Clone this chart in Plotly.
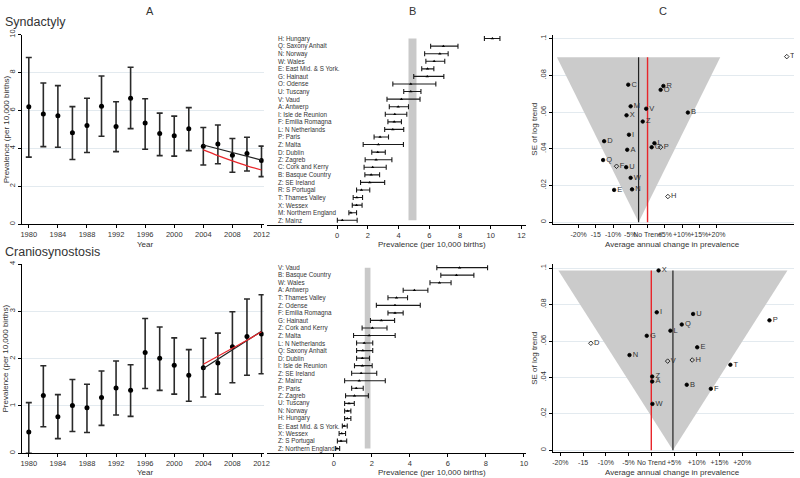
import plotly.graph_objects as go

W, H = 800, 478
FONT = "Liberation Sans, Arial, sans-serif"
INK = "#333333"
GRID = "#e3eaef"

# ---- Panel A: prevalence over time (2-year periods) ----
years = [1980, 1982, 1984, 1986, 1988, 1990, 1992, 1994, 1996,
         1998, 2000, 2002, 2004, 2006, 2008, 2010, 2012]
year_ticks = [1980, 1984, 1988, 1992, 1996, 2000, 2004, 2008, 2012]

synd_prev = [6.19, 5.81, 5.72, 4.82, 5.20, 6.22, 5.16, 6.65, 5.34,
             4.78, 4.66, 5.04, 4.11, 4.23, 3.64, 3.73, 3.36]
synd_hi = [8.79, 7.45, 7.31, 6.20, 6.64, 7.82, 6.46, 8.28, 6.62,
           5.86, 5.70, 6.15, 5.10, 5.23, 4.52, 4.59, 4.12]
synd_lo = [3.54, 4.09, 4.06, 3.41, 3.78, 4.64, 3.83, 5.04, 3.95,
           3.62, 3.59, 3.88, 3.12, 3.19, 2.74, 2.81, 2.51]

cranio_prev = [0.45, 1.22, 0.77, 1.01, 0.96, 1.18, 1.38, 1.33, 2.13,
               2.01, 1.86, 1.65, 1.81, 1.91, 2.25, 2.47, 2.52]
cranio_hi = [1.07, 1.85, 1.24, 1.56, 1.46, 1.74, 1.95, 1.87, 2.85,
             2.67, 2.44, 2.19, 2.43, 2.54, 2.99, 3.26, 3.35]
cranio_lo = [0.00, 0.56, 0.31, 0.46, 0.44, 0.59, 0.81, 0.78, 1.37,
             1.33, 1.25, 1.10, 1.19, 1.25, 1.49, 1.65, 1.68]

trend_years = [2004, 2006, 2008, 2010, 2012]
synd_trend_black = [4.18, 3.98, 3.78, 3.58, 3.38]
synd_trend_red = [3.92, 3.62, 3.34, 3.08, 2.86]
cranio_trend_black = [1.79, 1.99, 2.19, 2.38, 2.58]
cranio_trend_red = [1.88, 2.05, 2.22, 2.39, 2.57]

# ---- Panel B: prevalence by registry ----
synd_regions = ["H: Hungary", "Q: Saxony Anhalt", "N: Norway", "W: Wales",
                "E: East Mid. & S York.", "G: Hainaut", "O: Odense", "U: Tuscany",
                "V: Vaud", "A: Antwerp", "I: Isle de Reunion", "F: Emilia Romagna",
                "L: N Netherlands", "P: Paris", "Z: Malta", "D: Dublin", "Z: Zagreb",
                "C: Cork and Kerry", "B: Basque Country", "Z: SE Ireland",
                "R: S Portugal", "T: Thames Valley", "X: Wessex",
                "M: Northern England", "Z: Mainz"]
synd_reg_prev = [10.11, 6.92, 6.69, 6.32, 5.89, 5.87, 4.80, 4.80, 4.19, 3.98,
                 3.76, 3.72, 3.63, 2.80, 2.69, 2.65, 2.54, 2.32, 2.22, 2.13,
                 1.59, 1.29, 1.27, 0.90, 0.34]
synd_reg_lo = [9.59, 6.09, 5.70, 5.78, 5.51, 4.99, 3.63, 4.34, 3.25, 3.40,
               3.14, 3.31, 3.10, 2.41, 1.70, 2.26, 1.83, 1.76, 1.81, 1.53,
               1.27, 1.05, 0.99, 0.77, 0.02]
synd_reg_hi = [10.60, 7.87, 7.23, 7.01, 6.30, 6.95, 6.43, 5.46, 5.40, 4.65,
               4.54, 4.19, 4.34, 3.35, 4.32, 3.14, 3.57, 3.20, 2.77, 3.10,
               2.13, 1.66, 1.63, 1.27, 1.31]
synd_pooled = [4.65, 5.17]

cranio_regions = ["V: Vaud", "B: Basque Country", "W: Wales", "A: Antwerp",
                  "T: Thames Valley", "Z: Odense", "F: Emilia Romagna", "G: Hainaut",
                  "Z: Cork and Kerry", "Z: Malta", "L: N Netherlands",
                  "Q: Saxony Anhalt", "D: Dublin", "I: Isle de Reunion",
                  "Z: SE Ireland", "Z: Mainz", "P: Paris", "Z: Zagreb", "U: Tuscany",
                  "N: Norway", "H: Hungary", "E: East Mid. & S York.", "X: Wessex",
                  "Z: S Portugal", "Z: Northern England"]
cranio_reg_prev = [6.62, 6.45, 5.56, 4.24, 3.30, 3.22, 3.22, 2.50, 2.03, 1.86,
                   1.60, 1.53, 1.50, 1.50, 1.44, 1.34, 1.18, 1.09, 0.80, 0.73,
                   0.71, 0.55, 0.42, 0.38, 0.17]
cranio_reg_lo = [5.42, 5.63, 5.06, 3.65, 2.85, 2.24, 2.85, 1.93, 1.49, 1.04,
                 1.20, 1.20, 1.20, 1.09, 0.94, 0.57, 0.94, 0.62, 0.57, 0.57,
                 0.57, 0.45, 0.28, 0.19, 0.10]
cranio_reg_hi = [8.09, 7.37, 6.17, 4.95, 3.88, 4.55, 3.65, 3.20, 2.80, 3.23,
                 2.05, 2.05, 1.88, 2.02, 2.26, 2.71, 1.55, 1.82, 1.08, 0.90,
                 0.90, 0.71, 0.62, 0.68, 0.31]
cranio_pooled = [1.63, 1.93]

# ---- Panel C: funnel plot of annual change vs SE of log trend ----
synd_codes = ["T", "C", "R", "O", "M", "V", "B", "X", "Z", "I", "D", "L",
              "G", "P", "A", "Q", "F", "U", "W", "E", "N", "H"]
synd_change = [40.4, -5.6, 4.6, 3.8, -4.9, -0.4, 11.7, -6.1, -1.4, -5.4, -12.6, 2.0,
               1.2, 3.8, -5.9, -12.9, -9.0, -6.2, -4.9, -9.7, -4.5, 5.9]
synd_se = [0.0903, 0.0750, 0.0743, 0.0722, 0.0632, 0.0619, 0.0598, 0.0583, 0.0549,
           0.0477, 0.0442, 0.0431, 0.0409, 0.0409, 0.0395, 0.0339, 0.0305, 0.0300,
           0.0242, 0.0176, 0.0179, 0.0140]
synd_open = ["T", "P", "F", "H"]
synd_funnel = {"center": -2.6, "top_se": 0.090, "half_width": 23.7}

cranio_codes = ["X", "I", "U", "Q", "P", "L", "G", "D", "E", "N", "V", "H",
                "T", "Z", "A", "B", "F", "W"]
cranio_change = [1.6, 1.2, 9.2, 6.7, 26.0, 4.2, -1.0, -13.3, 10.1, -4.8, 3.6, 9.0,
                 17.4, 0.2, 0.2, 7.8, 13.1, 0.25]
cranio_se = [0.0988, 0.0758, 0.0749, 0.0691, 0.0714, 0.0657, 0.0629, 0.0588, 0.0566,
             0.0523, 0.0490, 0.0496, 0.0470, 0.0405, 0.0378, 0.0360, 0.0338, 0.0255]
cranio_open = ["D", "V", "H"]
cranio_funnel = {"center": 4.76, "top_se": 0.0988, "half_width": 25.2}

change_ticks = [-20, -15, -10, -5, 0, 5, 10, 15, 20]
change_labels = ["-20%", "-15", "-10%", "-5%", "No Trend", "+5%", "+10%", "+15%", "+20%"]
se_ticks = [0, 0.02, 0.04, 0.06, 0.08, 0.1]
se_labels = ["0", ".02", ".04", ".06", ".08", ".1"]


def px(x):
    return x / W


def py(y):
    return 1 - y / H


def tick_font(size=7.5):
    return dict(family=FONT, size=size, color=INK)


def add_time_panel(fig, xa, ya, prev, lo, hi, black, red):
    fig.add_trace(go.Scatter(
        x=years, y=prev, mode="markers", xaxis=xa, yaxis=ya,
        marker=dict(color="black", size=5),
        error_y=dict(type="data", array=[h - p for h, p in zip(hi, prev)],
                     arrayminus=[p - l for p, l in zip(prev, lo)],
                     color="#2a2a2a", thickness=1.6, width=3)))
    fig.add_trace(go.Scatter(x=trend_years, y=black, mode="lines", xaxis=xa, yaxis=ya,
                             line=dict(color="#222222", width=1.2)))
    fig.add_trace(go.Scatter(x=trend_years, y=red, mode="lines", xaxis=xa, yaxis=ya,
                             line=dict(color="#e8262b", width=1.2, shape="spline")))


def add_region_panel(fig, xa, ya, regions, prev, lo, hi, pooled, label_x):
    rows = list(range(len(regions)))
    fig.add_shape(type="rect", xref=xa, yref=ya, x0=pooled[0], x1=pooled[1],
                  y0=rows[0], y1=rows[-1], fillcolor="#c9c9c9",
                  line=dict(width=0), layer="below")
    fig.add_trace(go.Scatter(
        x=prev, y=rows, mode="markers", xaxis=xa, yaxis=ya,
        marker=dict(color="black", size=3, symbol="triangle-up"),
        error_x=dict(type="data", array=[h - p for h, p in zip(hi, prev)],
                     arrayminus=[p - l for p, l in zip(prev, lo)],
                     color="#1a1a1a", thickness=1.1, width=2.5)))
    for r, name in zip(rows, regions):
        fig.add_annotation(x=label_x, xref="paper", y=r, yref=ya, text=name,
                           showarrow=False, xanchor="left", yanchor="middle",
                           font=dict(family=FONT, size=6.3, color=INK))


def add_funnel_panel(fig, xa, ya, codes, change, se, open_codes, funnel):
    c, top, hw = funnel["center"], funnel["top_se"], funnel["half_width"]
    fig.add_trace(go.Scatter(x=[c - hw, c, c + hw, c - hw], y=[top, 0, top, top],
                             mode="lines", fill="toself", fillcolor="#cbcbcb",
                             line=dict(width=0), xaxis=xa, yaxis=ya))
    fig.add_trace(go.Scatter(x=[c, c], y=[0, top], mode="lines", xaxis=xa, yaxis=ya,
                             line=dict(color="#222222", width=1.2)))
    fig.add_trace(go.Scatter(x=[0, 0], y=[0, top], mode="lines", xaxis=xa, yaxis=ya,
                             line=dict(color="#e8262b", width=1.4)))
    symbols = ["diamond-open" if k in open_codes else "circle" for k in codes]
    fig.add_trace(go.Scatter(
        x=change, y=se, text=codes, mode="markers+text", xaxis=xa, yaxis=ya,
        textposition="middle right",
        textfont=dict(family=FONT, size=7.5, color=INK),
        marker=dict(color="black", size=3.5, symbol=symbols,
                    line=dict(width=0.8, color="black"))))


def main():
    fig = go.Figure()

    add_time_panel(fig, "x", "y", synd_prev, synd_lo, synd_hi,
                   synd_trend_black, synd_trend_red)
    add_region_panel(fig, "x2", "y2", synd_regions, synd_reg_prev, synd_reg_lo,
                     synd_reg_hi, synd_pooled, px(277))
    add_funnel_panel(fig, "x3", "y3", synd_codes, synd_change, synd_se,
                     synd_open, synd_funnel)

    add_time_panel(fig, "x4", "y4", cranio_prev, cranio_lo, cranio_hi,
                   cranio_trend_black, cranio_trend_red)
    add_region_panel(fig, "x5", "y5", cranio_regions, cranio_reg_prev, cranio_reg_lo,
                     cranio_reg_hi, cranio_pooled, px(277))
    add_funnel_panel(fig, "x6", "y6", cranio_codes, cranio_change, cranio_se,
                     cranio_open, cranio_funnel)

    base_x = dict(showline=True, linecolor="black", linewidth=1, ticks="outside",
                  ticklen=3, tickcolor="black", tickfont=tick_font(), showgrid=False,
                  zeroline=False, tickangle=0)
    base_y = dict(showline=True, linecolor="black", linewidth=1, ticks="outside",
                  ticklen=3, tickcolor="black", tickfont=tick_font(), showgrid=True,
                  gridcolor=GRID, gridwidth=1, zeroline=False, tickangle=-90)
    no_y = dict(showline=False, showticklabels=False, ticks="", showgrid=False,
                zeroline=False)

    layout = dict(
        width=W, height=H, margin=dict(l=0, r=0, t=0, b=0),
        paper_bgcolor="white", plot_bgcolor="white", showlegend=False,
        font=dict(family=FONT, color=INK),
        # top row
        xaxis=dict(base_x, domain=[px(20.7), px(265)], range=[1979, 2012.3],
                   tickvals=year_ticks, anchor="y"),
        yaxis=dict(base_y, domain=[py(222), py(30)], range=[0, 10],
                   tickvals=[0, 2, 4, 6, 8, 10], anchor="x"),
        xaxis2=dict(base_x, domain=[px(268), px(530)], range=[-4.58, 12.32],
                    tickvals=[0, 2, 4, 6, 8, 10, 12], anchor="y2"),
        yaxis2=dict(no_y, domain=[py(223), py(30)], range=[24.65, -0.52], anchor="x2"),
        xaxis3=dict(base_x, domain=[px(557), px(800)], range=[-27.4, 42.5],
                    tickvals=change_ticks, ticktext=change_labels, anchor="y3",
                    tickfont=tick_font(7)),
        yaxis3=dict(base_y, domain=[py(222), py(30)], range=[-0.0011, 0.1023],
                    tickvals=se_ticks, ticktext=se_labels, anchor="x3"),
        # bottom row
        xaxis4=dict(base_x, domain=[px(20.7), px(265)], range=[1979, 2012.3],
                    tickvals=year_ticks, anchor="y4"),
        yaxis4=dict(base_y, domain=[py(454), py(262.3)], range=[0, 4],
                    tickvals=[0, 1, 2, 3, 4], anchor="x4"),
        xaxis5=dict(base_x, domain=[px(268), px(530)], range=[-3.53, 10.13],
                    tickvals=[0, 2, 4, 6, 8, 10], anchor="y5"),
        yaxis5=dict(no_y, domain=[py(454), py(262)], range=[24.62, -0.52], anchor="x5"),
        xaxis6=dict(base_x, domain=[px(557), px(800)], range=[-21.6, 31.4],
                    tickvals=change_ticks, ticktext=change_labels, anchor="y6",
                    tickfont=tick_font(7)),
        yaxis6=dict(base_y, domain=[py(453), py(262)], range=[-0.0011, 0.1025],
                    tickvals=se_ticks, ticktext=se_labels, anchor="x6"),
    )
    fig.update_layout(layout)

    def note(text, x, y, size=8, angle=0, anchor="center"):
        fig.add_annotation(text=text, x=px(x), y=py(y), xref="paper", yref="paper",
                           showarrow=False, textangle=angle, xanchor=anchor,
                           yanchor="middle", font=dict(family=FONT, size=size, color=INK))

    # panel letters and row titles
    note("A", 150, 6, size=11)
    note("B", 415, 6, size=11)
    note("C", 668, 6, size=11)
    note("Syndactyly", 2, 17, size=12.5, anchor="left")
    note("Craniosynostosis", 2, 250, size=12.5, anchor="left")

    # axis titles
    for top, bottom in [(30, 222), (262, 454)]:
        note("Prevalence (per 10,000 births)", 5, (top + bottom) / 2, angle=-90)
        note("SE of log trend", 538, (top + bottom) / 2, angle=-90)
    for y in (243, 473):
        note("Year", 146, y)
        note("Prevalence (per 10,000 births)", 435, y)
        note("Average annual change in prevalence", 677, y)

    # page has a default body margin; remove it so the figure fills the window
    fig.write_html("out.html", config={"displayModeBar": False},
                   post_script="document.body.style.margin='0';")


if __name__ == "__main__":
    main()
